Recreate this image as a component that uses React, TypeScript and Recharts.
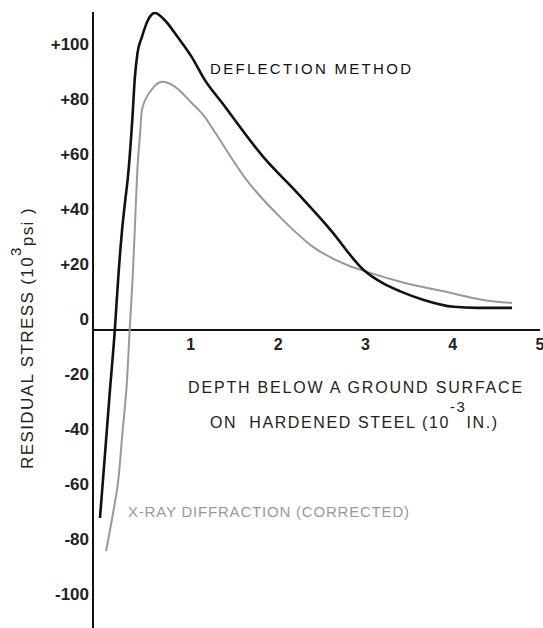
import { LineChart, Line, XAxis, YAxis, ReferenceLine, ReferenceDot, Customized } from "recharts";

// depth below surface (10^-3 in.) / residual stress (10^3 psi)
const deflectionDepth = [-0.04, 0.03, 0.07, 0.13, 0.17, 0.21, 0.25, 0.28, 0.33, 0.36, 0.39, 0.44, 0.51, 0.59, 0.7, 0.85, 1.01, 1.16, 1.36, 1.83, 2.22, 2.6, 2.98, 3.2, 3.4, 3.66, 4.01, 4.28, 4.68];
const deflectionStress = [-68.4, -40, -23.6, 0, 19.3, 35.3, 47.3, 55.6, 76.4, 92, 100.7, 106.5, 112.7, 115.3, 112.7, 106.5, 99.3, 90.9, 82.5, 62.9, 49.8, 36.4, 21.8, 17, 14, 11, 8.4, 8, 8];

const xrayDepth = [0.03, 0.11, 0.17, 0.22, 0.27, 0.3, 0.34, 0.36, 0.39, 0.42, 0.44, 0.55, 0.68, 0.82, 1.01, 1.16, 1.26, 1.64, 2.02, 2.4, 2.79, 3.02, 3.4, 3.97, 4.35, 4.68];
const xrayStress = [-80.4, -66.5, -54.5, -36.4, -18.2, 0, 22.9, 37.5, 59.3, 71.6, 80, 87.3, 90.2, 88.4, 82.5, 77.5, 72.7, 54.5, 41.1, 30.2, 23.6, 21.1, 17.5, 13.5, 10.9, 9.8];

const xTicks = [1, 2, 3, 4, 5];
const yTicks = [-100, -80, -60, -40, -20, 0, 20, 40, 60, 80, 100];

const deflection = deflectionDepth.map((x, i) => ({ x, y: deflectionStress[i] }));
const xray = xrayDepth.map((x, i) => ({ x, y: xrayStress[i] }));

const font = "'Liberation Sans', Arial, sans-serif";

function YTick({ x, y, payload }: any) {
  const v = payload.value;
  return (
    <text x={x} y={y} dy={-5} textAnchor="end" fontFamily={font} fontSize={17} fontWeight="bold" fill="#222">
      {v > 0 ? `+${v}` : `${v}`}
    </text>
  );
}

function Notes() {
  return (
    <g fontFamily={font}>
      <text x={210} y={74} fontSize={15} letterSpacing={2.3} fill="#111">DEFLECTION METHOD</text>
      <text x={128} y={517} fontSize={15} letterSpacing={0.8} fill="#999">X-RAY DIFFRACTION (CORRECTED)</text>
      <text x={356} y={393} fontSize={16} letterSpacing={1.8} fill="#222" textAnchor="middle">
        DEPTH BELOW A GROUND SURFACE
      </text>
      <text x={210} y={428} fontSize={16} letterSpacing={1.6} fill="#222" xmlSpace="preserve">
        ON  HARDENED STEEL (10
        <tspan dy={-16} fontSize={15}>-3</tspan>
        <tspan dy={16}>IN.)</tspan>
      </text>
      <text
        x={33}
        y={338}
        fontSize={17}
        letterSpacing={1.4}
        fill="#222"
        textAnchor="middle"
        transform="rotate(-90 33 338)"
      >
        RESIDUAL STRESS (10
        <tspan dy={-12} fontSize={15}>3</tspan>
        <tspan dy={12}>psi )</tspan>
      </text>
    </g>
  );
}

export default function App() {
  return (
    <div style={{ position: "absolute", left: 0, top: 0, background: "#fff" }}>
      <LineChart width={543} height={628} margin={{ top: 12, right: 3, bottom: 0, left: 0 }}>
        <XAxis type="number" dataKey="x" domain={[-0.12, 5.0]} allowDataOverflow hide />
        <YAxis
          type="number"
          domain={[-108.4, 115.6]}
          allowDataOverflow
          ticks={yTicks}
          width={93}
          tickLine={false}
          tickSize={0}
          tickMargin={4}
          axisLine={{ stroke: "#111", strokeWidth: 2 }}
          tick={<YTick />}
        />
        <ReferenceLine y={0} stroke="#111" strokeWidth={2} />
        {xTicks.map((t) => (
          <ReferenceDot
            key={t}
            x={t}
            y={0}
            r={1}
            fill="none"
            stroke="none"
            ifOverflow="visible"
            label={{ value: String(t), position: "bottom", offset: 8, fontSize: 16, fontWeight: "bold", fill: "#222", fontFamily: font }}
          />
        ))}
        <Line data={xray} dataKey="y" type="monotone" stroke="#999" strokeWidth={2} dot={false} isAnimationActive={false} />
        <Line data={deflection} dataKey="y" type="monotone" stroke="#111" strokeWidth={2.6} dot={false} isAnimationActive={false} />
        <Customized component={Notes} />
      </LineChart>
    </div>
  );
}
